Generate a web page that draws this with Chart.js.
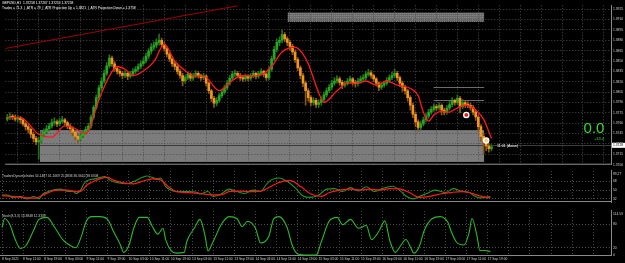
<!DOCTYPE html>
<html>
<head>
<meta charset="utf-8">
<title>GBPUSD H1</title>
<script src="https://cdn.jsdelivr.net/npm/chart.js@4.4.0/dist/chart.umd.min.js"></script>
<style>
    html, body { margin: 0; padding: 0; background: #000; }
    body { width: 625px; height: 263px; position: relative; overflow: hidden; }
    canvas { position: absolute; left: 0; }
</style>
</head>
<body>
<canvas id="priceChart" width="625" height="170" style="top:0;width:625px;height:170px"></canvas>
<canvas id="tdiChart" width="625" height="39" style="top:167px;width:625px;height:39px"></canvas>
<canvas id="stochChart" width="625" height="56" style="top:207px;width:625px;height:56px"></canvas>
<script>
// GBPUSD H1, 8 - 17 Sep 2021 (one label every 8 bars)
const timeLabels = ['8 Sep 2021', '8 Sep 11:00', '8 Sep 19:00', '9 Sep 03:00', '9 Sep 11:00', '9 Sep 19:00',
    '10 Sep 03:00', '10 Sep 11:00', '10 Sep 19:00', '13 Sep 03:00', '13 Sep 11:00', '13 Sep 19:00',
    '14 Sep 03:00', '14 Sep 11:00', '14 Sep 19:00', '15 Sep 03:00', '15 Sep 11:00', '15 Sep 19:00',
    '16 Sep 03:00', '16 Sep 11:00', '16 Sep 19:00', '17 Sep 03:00', '17 Sep 11:00', '17 Sep 19:00'];
const barsPerLabel = 8;

const priceTicks = [1.3925, 1.3910, 1.3895, 1.3880, 1.3865, 1.3850, 1.3835, 1.3820,
    1.3805, 1.3790, 1.3775, 1.3760, 1.3745, 1.3730, 1.3715, 1.3700];
const tdiLevels = [68, 50, 32];
const stochLevels = [80, 20, 0];

const opens = [
    1.3766, 1.3768, 1.3770, 1.3769, 1.3766, 1.3768, 1.3765, 1.3759,
    1.3755, 1.3751, 1.3744, 1.3738, 1.3733, 1.3735, 1.3744, 1.3748,
    1.3752, 1.3756, 1.3761, 1.3762, 1.3759, 1.3763, 1.3765, 1.3761,
    1.3756, 1.3752, 1.3747, 1.3741, 1.3737, 1.3742, 1.3747, 1.3751,
    1.3756, 1.3769, 1.3783, 1.3797, 1.3811, 1.3821, 1.3832, 1.3843,
    1.3854, 1.3846, 1.3839, 1.3835, 1.3832, 1.3829, 1.3832, 1.3828,
    1.3831, 1.3835, 1.3838, 1.3842, 1.3846, 1.3850, 1.3857, 1.3864,
    1.3870, 1.3873, 1.3877, 1.3880, 1.3874, 1.3868, 1.3860, 1.3853,
    1.3846, 1.3842, 1.3835, 1.3829, 1.3821, 1.3826, 1.3831, 1.3825,
    1.3829, 1.3832, 1.3829, 1.3826, 1.3828, 1.3818, 1.3807, 1.3796,
    1.3789, 1.3793, 1.3800, 1.3805, 1.3811, 1.3818, 1.3825, 1.3831,
    1.3832, 1.3829, 1.3826, 1.3824, 1.3828, 1.3825, 1.3829, 1.3832,
    1.3828, 1.3832, 1.3835, 1.3831, 1.3826, 1.3838, 1.3853, 1.3867,
    1.3877, 1.3880, 1.3888, 1.3882, 1.3877, 1.3871, 1.3863, 1.3852,
    1.3840, 1.3829, 1.3818, 1.3807, 1.3797, 1.3790, 1.3793, 1.3787,
    1.3790, 1.3794, 1.3801, 1.3807, 1.3812, 1.3818, 1.3821, 1.3824,
    1.3819, 1.3815, 1.3818, 1.3821, 1.3824, 1.3819, 1.3817, 1.3821,
    1.3824, 1.3826, 1.3831, 1.3833, 1.3829, 1.3824, 1.3818, 1.3812,
    1.3815, 1.3818, 1.3822, 1.3826, 1.3829, 1.3832, 1.3826, 1.3818,
    1.3812, 1.3807, 1.3797, 1.3786, 1.3773, 1.3762, 1.3754, 1.3759,
    1.3765, 1.3770, 1.3776, 1.3780, 1.3784, 1.3782, 1.3786, 1.3779,
    1.3776, 1.3782, 1.3787, 1.3793, 1.3790, 1.3796, 1.3784, 1.3790,
    1.3787, 1.3786, 1.3783, 1.3776, 1.3769, 1.3755, 1.3741, 1.3734,
    1.3727, 1.3723];
const highs = [
    1.3773, 1.3775, 1.3773, 1.3772, 1.3771, 1.3770, 1.3767, 1.3762,
    1.3758, 1.3753, 1.3747, 1.3741, 1.3740, 1.3748, 1.3752, 1.3757,
    1.3760, 1.3766, 1.3768, 1.3765, 1.3767, 1.3770, 1.3767, 1.3763,
    1.3759, 1.3755, 1.3749, 1.3744, 1.3745, 1.3750, 1.3755, 1.3760,
    1.3772, 1.3786, 1.3801, 1.3815, 1.3826, 1.3837, 1.3848, 1.3859,
    1.3857, 1.3849, 1.3842, 1.3838, 1.3835, 1.3836, 1.3834, 1.3835,
    1.3839, 1.3842, 1.3846, 1.3850, 1.3855, 1.3861, 1.3868, 1.3875,
    1.3878, 1.3882, 1.3889, 1.3883, 1.3877, 1.3870, 1.3862, 1.3856,
    1.3849, 1.3845, 1.3838, 1.3832, 1.3829, 1.3834, 1.3833, 1.3832,
    1.3836, 1.3835, 1.3831, 1.3832, 1.3830, 1.3820, 1.3809, 1.3799,
    1.3797, 1.3803, 1.3809, 1.3815, 1.3822, 1.3829, 1.3835, 1.3837,
    1.3835, 1.3832, 1.3829, 1.3831, 1.3830, 1.3832, 1.3836, 1.3834,
    1.3835, 1.3839, 1.3837, 1.3833, 1.3842, 1.3857, 1.3871, 1.3882,
    1.3885, 1.3895, 1.3891, 1.3885, 1.3880, 1.3874, 1.3866, 1.3855,
    1.3843, 1.3832, 1.3821, 1.3810, 1.3800, 1.3797, 1.3796, 1.3794,
    1.3798, 1.3805, 1.3811, 1.3816, 1.3822, 1.3826, 1.3829, 1.3827,
    1.3822, 1.3821, 1.3825, 1.3828, 1.3826, 1.3822, 1.3825, 1.3828,
    1.3830, 1.3835, 1.3838, 1.3836, 1.3831, 1.3826, 1.3820, 1.3818,
    1.3821, 1.3826, 1.3830, 1.3834, 1.3838, 1.3835, 1.3828, 1.3821,
    1.3815, 1.3809, 1.3800, 1.3789, 1.3776, 1.3765, 1.3763, 1.3769,
    1.3774, 1.3780, 1.3784, 1.3788, 1.3787, 1.3790, 1.3788, 1.3782,
    1.3786, 1.3792, 1.3797, 1.3795, 1.3801, 1.3799, 1.3794, 1.3793,
    1.3791, 1.3789, 1.3786, 1.3779, 1.3772, 1.3758, 1.3745, 1.3738,
    1.3731, 1.3729];
const lows = [
    1.3763, 1.3765, 1.3765, 1.3763, 1.3762, 1.3760, 1.3756, 1.3750,
    1.3746, 1.3739, 1.3733, 1.3729, 1.3708, 1.3731, 1.3740, 1.3745,
    1.3749, 1.3753, 1.3757, 1.3755, 1.3756, 1.3760, 1.3757, 1.3752,
    1.3748, 1.3742, 1.3736, 1.3731, 1.3734, 1.3739, 1.3744, 1.3748,
    1.3753, 1.3766, 1.3780, 1.3794, 1.3807, 1.3818, 1.3829, 1.3840,
    1.3842, 1.3835, 1.3831, 1.3828, 1.3824, 1.3826, 1.3823, 1.3825,
    1.3828, 1.3832, 1.3835, 1.3839, 1.3843, 1.3847, 1.3853, 1.3860,
    1.3866, 1.3869, 1.3873, 1.3870, 1.3864, 1.3856, 1.3849, 1.3842,
    1.3837, 1.3831, 1.3825, 1.3814, 1.3818, 1.3823, 1.3821, 1.3822,
    1.3826, 1.3825, 1.3822, 1.3823, 1.3814, 1.3803, 1.3791, 1.3783,
    1.3785, 1.3790, 1.3797, 1.3802, 1.3808, 1.3815, 1.3822, 1.3827,
    1.3825, 1.3822, 1.3820, 1.3821, 1.3821, 1.3822, 1.3826, 1.3824,
    1.3825, 1.3829, 1.3827, 1.3822, 1.3823, 1.3835, 1.3850, 1.3863,
    1.3872, 1.3876, 1.3878, 1.3872, 1.3866, 1.3859, 1.3848, 1.3836,
    1.3824, 1.3813, 1.3786, 1.3792, 1.3785, 1.3786, 1.3783, 1.3783,
    1.3786, 1.3791, 1.3798, 1.3804, 1.3809, 1.3815, 1.3818, 1.3815,
    1.3810, 1.3812, 1.3815, 1.3818, 1.3815, 1.3812, 1.3814, 1.3818,
    1.3820, 1.3823, 1.3828, 1.3825, 1.3820, 1.3814, 1.3807, 1.3809,
    1.3812, 1.3815, 1.3819, 1.3823, 1.3826, 1.3822, 1.3813, 1.3806,
    1.3802, 1.3792, 1.3779, 1.3768, 1.3755, 1.3748, 1.3750, 1.3756,
    1.3762, 1.3767, 1.3773, 1.3777, 1.3778, 1.3779, 1.3772, 1.3772,
    1.3773, 1.3779, 1.3784, 1.3786, 1.3787, 1.3775, 1.3781, 1.3783,
    1.3782, 1.3779, 1.3772, 1.3764, 1.3750, 1.3734, 1.3716, 1.3720,
    1.3718, 1.3720];
const closes = [
    1.3768, 1.3770, 1.3769, 1.3766, 1.3768, 1.3765, 1.3759, 1.3755,
    1.3751, 1.3744, 1.3738, 1.3733, 1.3735, 1.3744, 1.3748, 1.3752,
    1.3756, 1.3761, 1.3762, 1.3759, 1.3763, 1.3765, 1.3761, 1.3756,
    1.3752, 1.3747, 1.3741, 1.3737, 1.3742, 1.3747, 1.3751, 1.3756,
    1.3769, 1.3783, 1.3797, 1.3811, 1.3821, 1.3832, 1.3843, 1.3854,
    1.3846, 1.3839, 1.3835, 1.3832, 1.3829, 1.3832, 1.3828, 1.3831,
    1.3835, 1.3838, 1.3842, 1.3846, 1.3850, 1.3857, 1.3864, 1.3870,
    1.3873, 1.3877, 1.3880, 1.3874, 1.3868, 1.3860, 1.3853, 1.3846,
    1.3842, 1.3835, 1.3829, 1.3821, 1.3826, 1.3831, 1.3825, 1.3829,
    1.3832, 1.3829, 1.3826, 1.3828, 1.3818, 1.3807, 1.3796, 1.3789,
    1.3793, 1.3800, 1.3805, 1.3811, 1.3818, 1.3825, 1.3831, 1.3832,
    1.3829, 1.3826, 1.3824, 1.3828, 1.3825, 1.3829, 1.3832, 1.3828,
    1.3832, 1.3835, 1.3831, 1.3826, 1.3838, 1.3853, 1.3867, 1.3877,
    1.3880, 1.3888, 1.3882, 1.3877, 1.3871, 1.3863, 1.3852, 1.3840,
    1.3829, 1.3818, 1.3807, 1.3797, 1.3790, 1.3793, 1.3787, 1.3790,
    1.3794, 1.3801, 1.3807, 1.3812, 1.3818, 1.3821, 1.3824, 1.3819,
    1.3815, 1.3818, 1.3821, 1.3824, 1.3819, 1.3817, 1.3821, 1.3824,
    1.3826, 1.3831, 1.3833, 1.3829, 1.3824, 1.3818, 1.3812, 1.3815,
    1.3818, 1.3822, 1.3826, 1.3829, 1.3832, 1.3826, 1.3818, 1.3812,
    1.3807, 1.3797, 1.3786, 1.3773, 1.3762, 1.3754, 1.3759, 1.3765,
    1.3770, 1.3776, 1.3780, 1.3784, 1.3782, 1.3786, 1.3779, 1.3776,
    1.3782, 1.3787, 1.3793, 1.3790, 1.3796, 1.3784, 1.3790, 1.3787,
    1.3786, 1.3783, 1.3776, 1.3769, 1.3755, 1.3741, 1.3734, 1.3727,
    1.3723, 1.3726];

// moving average, [bar, price]
const maPoints = [[0, 1.3768], [5, 1.3768], [12, 1.3744], [17, 1.3740], [22, 1.3756], [26, 1.3752],
    [30, 1.3745], [35, 1.3794], [39, 1.3828], [42, 1.3842], [45, 1.3838], [48, 1.3829], [50, 1.3831],
    [56, 1.3849], [60, 1.3874], [64, 1.3850], [69, 1.3833], [71, 1.3828], [75, 1.3828], [81, 1.3807],
    [86, 1.3822], [90, 1.3829], [94, 1.3828], [98, 1.3832], [101, 1.3842], [105, 1.3863], [110, 1.3870],
    [113, 1.3860], [115, 1.3846], [119, 1.3804], [121, 1.3790], [126, 1.3807], [130, 1.3818],
    [134, 1.3818], [137, 1.3821], [141, 1.3815], [145, 1.3821], [149, 1.3815], [153, 1.3812],
    [155, 1.3808], [157, 1.3800], [159, 1.3776], [161, 1.3763], [163, 1.3772], [166, 1.3777],
    [169, 1.3776], [171, 1.3780], [175, 1.3786], [177, 1.3784], [179, 1.3779], [182, 1.3766],
    [184, 1.3748], [185, 1.3738]];

const trendLine = [[-0.8, 1.3868], [88.3, 1.3930]];
const signalMarks = [[175.4, 1.3772], [183, 1.3735]];

// rectangles drawn on the chart: [fromBar, toBar, high, low]
const supportZone = [12.5, 182.2, 1.3750, 1.3704];
const topZone = [107.2, 182.2, 1.3920, 1.3907];
const atrLevels = [1.3812, 1.3794];
const atrFrom = 162.9;
const bidPrice = 1.3728;

// TradersDynamicIndex, [bar, value]
const tdiSignal = [[0, 38.5], [4, 37], [9.5, 34], [13, 33.6], [15.5, 40], [21, 50], [25, 50], [28, 47],
    [30, 48], [32, 60], [34, 66], [37, 73], [40, 76], [42, 71], [46, 65], [50, 63], [53, 68], [57, 73],
    [60, 71], [63, 57], [66, 47], [70, 45], [75, 43], [79, 40], [83, 40], [86, 47], [90, 48], [94, 47],
    [98, 48], [102, 58], [105, 66], [109, 70], [113, 58], [117, 42], [121, 37], [124, 45], [128, 50],
    [132, 52], [136, 50], [139, 52], [143, 50], [147, 53], [151, 52], [155, 43], [158, 35], [162, 37],
    [166, 42], [170, 45], [174, 47], [177, 45], [181, 38], [185, 34]];
const tdiPrice = [[0, 40], [2, 40], [4, 35], [7, 37], [9.5, 32], [12, 37], [14, 32], [15.5, 42], [18, 48],
    [22, 52], [25, 47], [27, 47], [28, 43], [30, 52], [31, 63], [33, 71], [35, 73], [37, 76], [39, 78],
    [41, 70], [44, 65], [47, 63], [50, 68], [53, 76], [55, 79], [59, 73], [60, 75], [62, 57], [64, 50],
    [66, 47], [70, 47], [74, 45], [75, 42], [78, 47], [80, 37], [83, 42], [86, 52], [89, 47], [92, 43],
    [95, 50], [98, 47], [100, 61], [102, 71], [105, 75], [108, 68], [111, 55], [114, 38], [117, 35],
    [120, 40], [123, 52], [126, 53], [129, 47], [132, 55], [135, 48], [138, 57], [141, 47], [144, 53],
    [148, 58], [151, 48], [153, 38], [156, 32], [158, 37], [161, 43], [164, 50], [168, 45], [171, 53],
    [174, 48], [177, 45], [179, 38], [181, 34], [185, 37]];

// Stochastic (8,3,3), [bar, value]
const stochMain = [[0, 72], [1, 95], [3, 79], [5, 41], [7, 18], [9, 25], [12, 65], [14, 93], [17, 98],
    [20, 72], [23, 41], [26, 25], [28, 20], [30, 48], [32, 89], [34, 100], [37, 100], [40, 93], [42, 65],
    [45, 25], [46, 8], [48, 25], [50, 72], [52, 98], [55, 98], [57, 74], [59, 55], [61, 70], [62, 41],
    [64, 13], [66, 6], [69, 8], [70, 36], [73, 72], [75, 93], [77, 48], [78, 12], [80, 36], [83, 79],
    [86, 100], [89, 95], [91, 74], [93, 88], [96, 70], [98, 32], [101, 48], [103, 95], [105, 100],
    [108, 72], [110, 25], [112, 4], [115, 1], [119, 1], [121, 36], [124, 89], [127, 98], [129, 79],
    [132, 93], [135, 70], [138, 77], [140, 41], [143, 65], [145, 89], [147, 36], [149, 8], [151, 25],
    [153, 41], [155, 18], [156, 6], [158, 22], [160, 65], [163, 95], [166, 100], [169, 84], [170, 65],
    [172, 36], [175, 27], [177, 60], [178, 95], [180, 48], [181, 13], [183, 13], [185, 10]];

const xMin = -0.76;
const xMax = 230.7;
const gridColor = '#4a4a4a';
const axisColor = '#8a8a8a';
const textColor = '#d0d0d0';
const fontFamily = '"Liberation Sans", Arial, sans-serif';

Chart.defaults.font.family = fontFamily;
Chart.defaults.animation = false;

const toXY = pts => pts.map(p => ({ x: p[0], y: p[1] }));
const gridBars = [];
for (let b = 0; b <= xMax; b += barsPerLabel) gridBars.push(b);

function xScale(showLabels) {
    return {
        type: 'linear',
        min: xMin,
        max: xMax,
        offset: false,
        afterBuildTicks: s => { s.ticks = gridBars.map(v => ({ value: v })); },
        afterFit: s => { s.height = showLabels ? 7 : 0; },
        ticks: {
            display: showLabels,
            autoSkip: false,
            maxRotation: 0,
            align: 'start',
            padding: 1,
            color: textColor,
            font: { size: 3.3 },
            callback: v => timeLabels[Math.round(v / barsPerLabel)] || ''
        },
        grid: { color: gridColor, drawTicks: false },
        border: { display: showLabels, color: axisColor, dash: [1, 2] }
    };
}

function yScale(min, max, levels, fmt) {
    return {
        position: 'right',
        min: min,
        max: max,
        afterBuildTicks: s => { s.ticks = levels.map(v => ({ value: v })); },
        afterFit: s => { s.width = 14; },
        ticks: { color: textColor, font: { size: 3.3 }, padding: 2, callback: fmt },
        grid: { color: gridColor, drawTicks: false },
        border: { display: true, color: axisColor, dash: [1, 2] }
    };
}

const baseOptions = {
    responsive: false,
    devicePixelRatio: 1,
    events: [],
    layout: { padding: 0 },
    plugins: { legend: { display: false }, tooltip: { enabled: false } }
};

function panelBorder(chart) {
    const { ctx, chartArea } = chart;
    ctx.save();
    ctx.strokeStyle = axisColor;
    ctx.lineWidth = 1;
    ctx.beginPath();
    ctx.moveTo(chartArea.left, chartArea.bottom - 0.5);
    ctx.lineTo(chartArea.right, chartArea.bottom - 0.5);
    ctx.stroke();
    ctx.restore();
}

function smallText(ctx, text, x, y, color, size, align) {
    ctx.font = size + 'px ' + fontFamily;
    ctx.fillStyle = color;
    ctx.textAlign = align || 'left';
    ctx.textBaseline = 'middle';
    ctx.fillText(text, x, y);
}

// price panel extras: zones, levels, texts
const priceOverlay = {
    id: 'priceOverlay',
    beforeDraw(chart) {
        const { ctx, scales: { x, y } } = chart;
        ctx.save();
        let x1 = x.getPixelForValue(supportZone[0]);
        let x2 = x.getPixelForValue(supportZone[1]);
        let y1 = y.getPixelForValue(supportZone[2]);
        let y2 = y.getPixelForValue(supportZone[3]);
        ctx.fillStyle = '#7c7c7c';
        ctx.fillRect(x1, y1, x2 - x1, y2 - y1);

        x1 = x.getPixelForValue(topZone[0]);
        x2 = x.getPixelForValue(topZone[1]);
        y1 = y.getPixelForValue(topZone[2]);
        y2 = y.getPixelForValue(topZone[3]);
        ctx.fillStyle = '#6a6a6a';
        ctx.fillRect(x1, y1, x2 - x1, y2 - y1);
        ctx.strokeStyle = '#8e8e8e';
        ctx.setLineDash([1, 1]);
        for (let yy = Math.ceil(y1) + 0.5; yy < y2; yy += 2) {
            ctx.beginPath();
            ctx.moveTo(x1, yy);
            ctx.lineTo(x2, yy);
            ctx.stroke();
        }
        ctx.restore();
    },
    beforeDatasetsDraw(chart) {
        const { ctx, chartArea, scales: { x, y } } = chart;
        ctx.save();
        ctx.lineWidth = 1;
        const by = Math.round(y.getPixelForValue(bidPrice)) + 0.5;
        ctx.strokeStyle = '#3c3c3c';
        ctx.beginPath();
        ctx.moveTo(x.getPixelForValue(supportZone[0]), by);
        ctx.lineTo(chartArea.right, by);
        ctx.stroke();

        ctx.strokeStyle = '#6c6c6c';
        atrLevels.forEach(level => {
            const ly = Math.round(y.getPixelForValue(level)) + 0.5;
            ctx.beginPath();
            ctx.moveTo(x.getPixelForValue(atrFrom), ly);
            ctx.lineTo(x.getPixelForValue(supportZone[1]), ly);
            ctx.stroke();
        });
        ctx.restore();
    },
    afterDraw(chart) {
        const { ctx, chartArea, scales: { y } } = chart;
        ctx.save();
        smallText(ctx, 'GBPUSD,H1  1.37258 1.37267 1.37234 1.37258', 2, 3, '#ffffff', 3.3);
        smallText(ctx, 'Trades = 71.3  |  ATR = 79  |  ATR Projection Up = 1.3821  |  ATR Projection Down = 1.3758',
            2, 8, '#ffffff', 3.3);

        ctx.font = '15px ' + fontFamily;
        ctx.fillStyle = '#3ad43a';
        ctx.textAlign = 'center';
        ctx.textBaseline = 'alphabetic';
        ctx.fillText('0.0', 594, 133);
        smallText(ctx, '+33.4', 594, 138.5, '#3ad43a', 4);

        const by = y.getPixelForValue(bidPrice);
        smallText(ctx, '11:01 (Asian)', 497, by + 1, '#ffffff', 3.6);

        ctx.fillStyle = '#ffffff';
        ctx.fillRect(chartArea.right + 1, by - 2.5, 13, 5);
        smallText(ctx, bidPrice.toFixed(4), chartArea.right + 2, by, '#000000', 3.3);
        ctx.restore();
        panelBorder(chart);
    }
};

const upBody = '#22a822';
const downBody = '#f7941d';
const upWick = '#2a6e1e';
const downWick = '#8c5a16';
const isUp = closes.map((c, i) => c >= opens[i]);

new Chart(document.getElementById('priceChart'), {
    type: 'bar',
    data: {
        datasets: [
            {
                type: 'scatter',
                data: toXY(signalMarks),
                pointRadius: 2.6,
                pointBackgroundColor: ['#e02020', '#ffcc88'],
                pointBorderColor: '#ffffff',
                pointBorderWidth: 1.3
            },
            {
                type: 'line',
                data: toXY(maPoints),
                borderColor: '#ff1a1a',
                borderWidth: 1.3,
                pointRadius: 0,
                cubicInterpolationMode: 'monotone'
            },
            {
                type: 'line',
                data: toXY(trendLine),
                borderColor: '#a00000',
                borderWidth: 1,
                pointRadius: 0
            },
            {
                data: closes.map((c, i) => ({ x: i, y: [opens[i], c] })),
                backgroundColor: isUp.map(u => u ? upBody : downBody),
                barThickness: 2,
                minBarLength: 1,
                grouped: false
            },
            {
                data: closes.map((c, i) => ({ x: i, y: [lows[i], highs[i]] })),
                backgroundColor: isUp.map(u => u ? upWick : downWick),
                barThickness: 1,
                grouped: false
            }
        ]
    },
    options: {
        ...baseOptions,
        layout: { padding: { bottom: 3 } },
        scales: {
            x: xScale(false),
            y: yScale(1.3700, 1.39305, priceTicks, v => v.toFixed(4))
        }
    },
    plugins: [priceOverlay]
});

function subPanel(title, topLabel) {
    return {
        id: 'subPanel',
        afterDraw(chart) {
            const { ctx, chartArea } = chart;
            ctx.save();
            smallText(ctx, title, 2, chartArea.top + 5, textColor, 3.3);
            smallText(ctx, topLabel, chartArea.right + 2, chartArea.top + 3, textColor, 3.3);
            ctx.restore();
        }
    };
}

new Chart(document.getElementById('tdiChart'), {
    type: 'line',
    data: {
        datasets: [
            {
                data: toXY(tdiSignal),
                borderColor: '#ff1a1a',
                borderWidth: 1.2,
                pointRadius: 0,
                cubicInterpolationMode: 'monotone'
            },
            {
                data: toXY(tdiPrice),
                borderColor: '#1f9a1f',
                borderWidth: 1.1,
                pointRadius: 0,
                cubicInterpolationMode: 'monotone'
            }
        ]
    },
    options: {
        ...baseOptions,
        scales: {
            x: xScale(false),
            y: yScale(25.5, 89.3, tdiLevels, v => String(v))
        }
    },
    plugins: [subPanel('TradersDynamicIndex 54.1487 41.1069 25.4836 36.3642 38.6308', '89.27'),
        { id: 'tdiBorder', afterDraw: panelBorder }]
});

new Chart(document.getElementById('stochChart'), {
    type: 'line',
    data: {
        datasets: [
            {
                data: toXY(stochMain),
                borderColor: '#2db82d',
                borderWidth: 1.1,
                pointRadius: 0,
                cubicInterpolationMode: 'monotone'
            }
        ]
    },
    options: {
        ...baseOptions,
        scales: {
            x: xScale(true),
            y: yScale(-1.3, 114.5, stochLevels, v => String(v))
        }
    },
    plugins: [subPanel('Stoch(8,3,3) 13.3848 12.3339', '114.53')]
});
</script>
</body>
</html>
